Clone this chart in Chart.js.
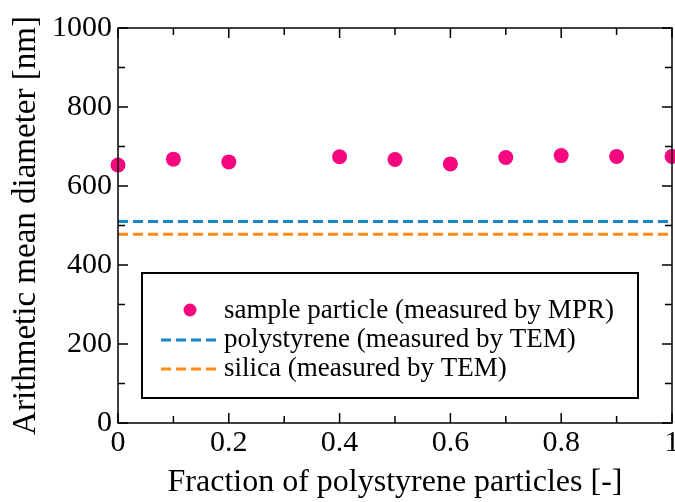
<!DOCTYPE html>
<html>
<head>
<meta charset="utf-8">
<script src="https://cdn.jsdelivr.net/npm/chart.js@4.4.1/dist/chart.umd.min.js"></script>
<style>
  html, body { margin: 0; padding: 0; background: #fff; }
  #wrap { width: 675px; height: 502px; }
</style>
</head>
<body>
<div id="wrap"><canvas id="chart" width="675" height="502"></canvas></div>
<script>
// values
const fractions = [0, 0.1, 0.2, 0.4, 0.5, 0.6, 0.7, 0.8, 0.9, 1.0];
const sampleDiameter = [653, 668, 661, 674, 667, 656, 672, 677, 675, 675];
const lineX = [0, 1];
const polystyreneDiameter = [510, 510];
const silicaDiameter = [478, 478];
const yTicks = [0, 200, 400, 600, 800, 1000];
const xTicks = [0, 0.2, 0.4, 0.6, 0.8, 1];

const serif = '"Liberation Serif", "DejaVu Serif", serif';
const pink = '#f5077f';
const blue = '#1a86c8';
const orange = '#ff8a16';

function pairs(xs, ys) {
    return xs.map((x, i) => ({x: x, y: ys[i]}));
}

// frame with inward ticks on all four sides
const framePlugin = {
    id: 'frame',
    afterDraw(chart) {
        const ctx = chart.ctx;
        const a = chart.chartArea;
        const xs = chart.scales.x;
        const ys = chart.scales.y;
        ctx.save();
        ctx.strokeStyle = '#000';
        ctx.lineWidth = 1.5;
        ctx.strokeRect(a.left, a.top, a.right - a.left, a.bottom - a.top);
        ctx.beginPath();
        for (let v = 0; v <= 10; v++) {
            let len = v % 2 === 0 ? 10 : 7;
            let px = xs.getPixelForValue(v / 10);
            ctx.moveTo(px, a.bottom); ctx.lineTo(px, a.bottom - len);
            ctx.moveTo(px, a.top); ctx.lineTo(px, a.top + len);
            let py = ys.getPixelForValue(v * 100);
            ctx.moveTo(a.left, py); ctx.lineTo(a.left + len, py);
            ctx.moveTo(a.right, py); ctx.lineTo(a.right - len, py);
        }
        ctx.stroke();
        ctx.restore();
    }
};

// boxed legend in the lower part of the plot
const legendPlugin = {
    id: 'boxLegend',
    afterDraw(chart) {
        const ctx = chart.ctx;
        const box = {left: 142, top: 273, right: 638, bottom: 398};
        ctx.save();
        ctx.fillStyle = '#fff';
        ctx.fillRect(box.left, box.top, box.right - box.left, box.bottom - box.top);
        ctx.strokeStyle = '#000';
        ctx.lineWidth = 2;
        ctx.strokeRect(box.left, box.top, box.right - box.left, box.bottom - box.top);
        ctx.font = '27px ' + serif;
        ctx.textBaseline = 'middle';
        ctx.fillStyle = '#000';
        const rows = [311, 340, 369];
        chart.data.datasets.forEach((ds, i) => {
            let y = rows[i];
            if (ds.showLine) {
                ctx.strokeStyle = ds.borderColor;
                ctx.lineWidth = ds.borderWidth;
                ctx.setLineDash(ds.borderDash);
                ctx.beginPath();
                ctx.moveTo(161, y);
                ctx.lineTo(220, y);
                ctx.stroke();
                ctx.setLineDash([]);
            } else {
                ctx.fillStyle = ds.backgroundColor;
                ctx.beginPath();
                ctx.arc(190, y - 1, 6.5, 0, Math.PI * 2);
                ctx.fill();
            }
            ctx.fillStyle = '#000';
            ctx.fillText(ds.label, 224, y);
        });
        ctx.restore();
    }
};

new Chart(document.getElementById('chart'), {
    type: 'scatter',
    data: {
        datasets: [
            {
                label: 'sample particle (measured by MPR)',
                data: pairs(fractions, sampleDiameter),
                backgroundColor: pink,
                borderColor: pink,
                pointRadius: 7.5,
                pointBorderWidth: 0,
                showLine: false,
                clip: false
            },
            {
                label: 'polystyrene (measured by TEM)',
                data: pairs(lineX, polystyreneDiameter),
                borderColor: blue,
                backgroundColor: blue,
                borderWidth: 3,
                borderDash: [10, 5],
                pointRadius: 0,
                showLine: true
            },
            {
                label: 'silica (measured by TEM)',
                data: pairs(lineX, silicaDiameter),
                borderColor: orange,
                backgroundColor: orange,
                borderWidth: 3,
                borderDash: [10, 5],
                pointRadius: 0,
                showLine: true
            }
        ]
    },
    options: {
        responsive: false,
        animation: false,
        devicePixelRatio: 1,
        layout: {autoPadding: false, padding: {top: 28, right: 3, left: 0, bottom: 0}},
        plugins: {legend: {display: false}, tooltip: {enabled: false}},
        scales: {
            x: {
                type: 'linear',
                min: 0,
                max: 1,
                afterFit(scale) {
                    scale.height = 79;
                    scale.paddingLeft = 0;
                    scale.paddingRight = 0;
                },
                afterBuildTicks(scale) { scale.ticks = xTicks.map(v => ({value: v})); },
                grid: {display: false, drawTicks: false},
                border: {display: false},
                ticks: {
                    color: '#000',
                    padding: 2,
                    maxRotation: 0,
                    font: {family: serif, size: 30},
                    callback: v => String(v)
                },
                title: {
                    display: true,
                    text: 'Fraction of polystyrene particles [-]',
                    color: '#000',
                    font: {family: serif, size: 32},
                    padding: {top: 0, bottom: 0}
                }
            },
            y: {
                type: 'linear',
                min: 0,
                max: 1000,
                afterFit(scale) {
                    scale.width = 118;
                    scale.paddingTop = 0;
                    scale.paddingBottom = 0;
                },
                afterBuildTicks(scale) { scale.ticks = yTicks.map(v => ({value: v})); },
                grid: {display: false, drawTicks: false},
                border: {display: false},
                ticks: {
                    color: '#000',
                    padding: 6,
                    font: {family: serif, size: 30},
                    callback: v => String(v)
                },
                title: {
                    display: true,
                    text: 'Arithmetic mean diameter [nm]',
                    color: '#000',
                    font: {family: serif, size: 33},
                    padding: {top: 7, bottom: 0}
                }
            }
        }
    },
    plugins: [framePlugin, legendPlugin]
});
</script>
</body>
</html>
